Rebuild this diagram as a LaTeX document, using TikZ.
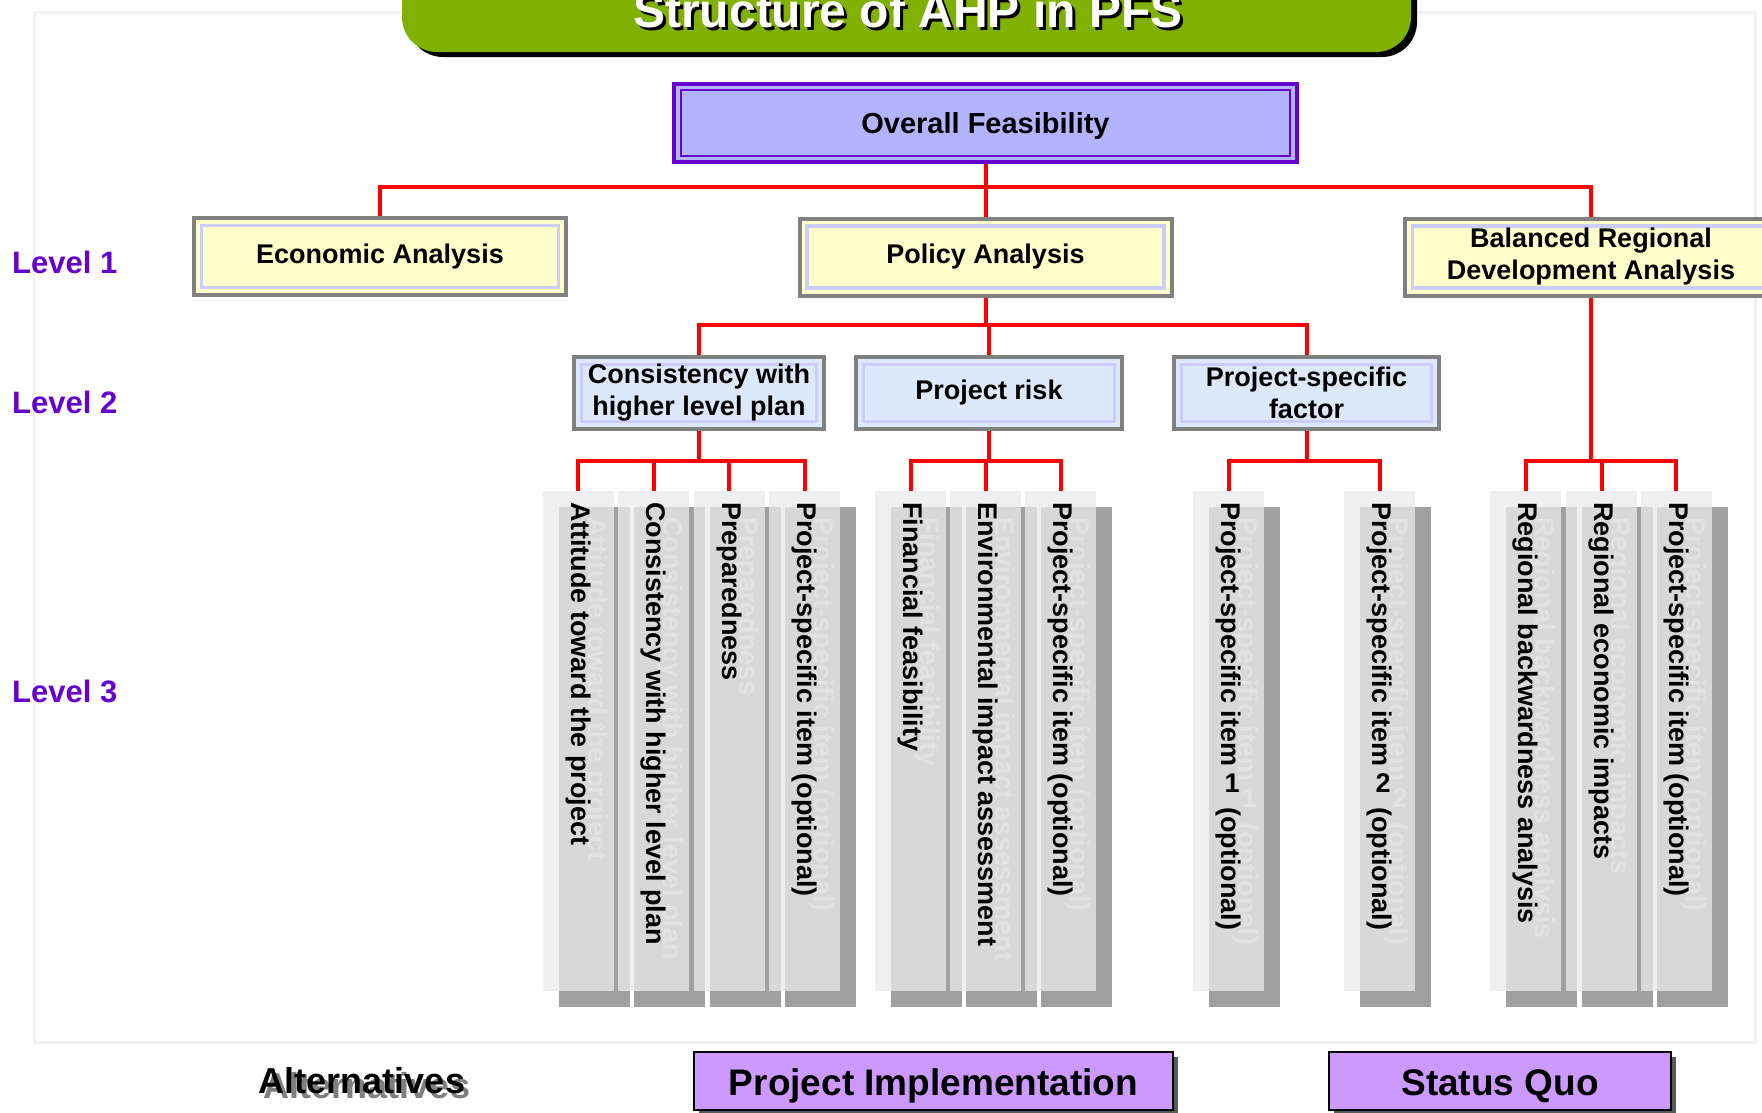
\documentclass[tikz,border=0pt]{standalone}
\usepackage{graphicx}
\usepackage{fontspec}
\setmainfont{Liberation Sans}
\usetikzlibrary{shadows}

\definecolor{titlegreen}{RGB}{128,176,0}
\definecolor{lvlpurple}{RGB}{102,0,204}
\definecolor{topfill}{RGB}{179,179,255}
\definecolor{lvlonefill}{RGB}{255,255,204}
\definecolor{lvltwofill}{RGB}{221,232,251}
\definecolor{innerlav}{RGB}{204,204,255}
\definecolor{boxgray}{RGB}{128,128,128}
\definecolor{linkred}{RGB}{255,0,0}
\definecolor{stripgray}{RGB}{234,234,234}
\definecolor{stripshadow}{RGB}{160,160,160}
\definecolor{ghostgray}{RGB}{226,226,226}
\definecolor{choicefill}{RGB}{204,153,255}
\definecolor{framegray}{RGB}{242,242,242}

% upright digit inside the sideways text
\newcommand{\updigit}[1]{\raisebox{3pt}{\rotatebox{90}{#1}}}
% one level 3 strip: box, faded copy of the text, the text
\newcommand{\stripnode}[3]{%
  \node[strip] (#1) at (#2,741) {};
  \node[vtext, text=ghostgray] (#1-ghost) at ([shift={(17pt,-26pt)}]#1.north) {#3};
  \node[vtext] (#1-text) at ([yshift=-11pt]#1.north) {#3};}

\begin{document}
\begin{tikzpicture}[x=1pt, y=-1pt,
    box/.style={draw=boxgray, line width=4pt, align=center, inner sep=0pt,
      font=\bfseries\fontsize{27}{32}\selectfont,
      path picture={\draw[innerlav, line width=3.5pt]
        ([shift={(7.5pt,-7.5pt)}]path picture bounding box.north west) rectangle
        ([shift={(-7.5pt,7.5pt)}]path picture bounding box.south east);}},
    topbox/.style={draw=lvlpurple, fill=topfill, line width=4pt, inner sep=0pt,
      minimum width=623pt, minimum height=78pt, text depth=0pt,
      font=\bfseries\fontsize{29}{34}\selectfont,
      path picture={\draw[lvlpurple, line width=2.5pt]
        ([shift={(7pt,-6pt)}]path picture bounding box.north west) rectangle
        ([shift={(-7pt,6pt)}]path picture bounding box.south east);}},
    lvlone/.style={box, fill=lvlonefill, minimum width=372pt, minimum height=77pt},
    lvltwo/.style={box, fill=lvltwofill, minimum height=72pt},
    strip/.style={fill=stripgray, fill opacity=0.76, inner sep=0pt,
      minimum width=71pt, minimum height=500pt,
      drop shadow={shadow xshift=16pt, shadow yshift=-16pt, fill=stripshadow, opacity=1}},
    vtext/.style={rotate=-90, anchor=west, inner sep=0pt,
      font=\bfseries\fontsize{27}{32}\selectfont},
    link/.style={draw=linkred, line width=4pt},
    lvllabel/.style={anchor=base west, inner sep=0pt, text=lvlpurple,
      font=\bfseries\fontsize{31}{31}\selectfont},
    titletext/.style={anchor=base, inner sep=0pt, text=white,
      font=\bfseries\fontsize{48}{48}\selectfont},
    alttext/.style={anchor=base, inner sep=0pt,
      font=\bfseries\fontsize{36}{36}\selectfont},
    choice/.style={draw=black, line width=2.5pt, fill=choicefill, inner sep=0pt,
      minimum height=58pt, text height=30pt, text depth=2pt,
      font=\bfseries\fontsize{37}{40}\selectfont,
      drop shadow={shadow xshift=5pt, shadow yshift=-5pt, fill=black!65, opacity=1}}]

    \useasboundingbox (0,0) rectangle (1762,1112);
    % faint panel frame
    \draw[framegray, line width=3pt] (34,12) rectangle (1755,1042);

    % title bar, runs off the top edge
    \node[fill=titlegreen, rounded corners=35pt, minimum width=1009pt, minimum height=114pt,
      drop shadow={shadow xshift=6pt, shadow yshift=-5pt, fill=black, opacity=1}]
      (bar) at (906.5,-5) {};
    \node[titletext, text=black] (title-shadow) at (911,30) {Structure of AHP in PFS};
    \node[titletext] (title) at (908,27) {Structure of AHP in PFS};

    \node[topbox] (overall) at (985.5,123) {Overall Feasibility};

    % levels on the left
    \node[lvllabel] (lev1) at (12,273) {Level 1};
    \node[lvllabel] (lev2) at (12,413) {Level 2};
    \node[lvllabel] (lev3) at (12,702) {Level 3};

    % level 1
    \node[lvlone] (econ) at (380,256.5) {Economic Analysis};
    \node[lvlone] (policy) at (985.5,257) {Policy Analysis};
    \node[lvlone] (balanced) at (1591,257) {Balanced Regional\\Development Analysis};

    % level 2
    \node[lvltwo, minimum width=250pt] (consist) at (699,393) {Consistency with\\higher level plan};
    \node[lvltwo, minimum width=266pt] (risk) at (989,393) {Project risk};
    \node[lvltwo, minimum width=265pt] (psf) at (1306.5,393) {Project-specific\\factor};

    % level 3
    \stripnode{att}{578}{Attitude toward the project}
    \stripnode{cons}{653.5}{Consistency with higher level plan}
    \stripnode{prep}{729}{Preparedness}
    \stripnode{optA}{804.5}{Project-specific item (optional)}
    \stripnode{fin}{910.5}{Financial feasibility}
    \stripnode{env}{985.5}{Environmental impact assessment}
    \stripnode{optB}{1060.5}{Project-specific item (optional)}
    \stripnode{itemone}{1228.5}{Project-specific item \updigit{1}\hspace{15pt}(optional)}
    \stripnode{itemtwo}{1379.5}{Project-specific item \updigit{2}\hspace{15pt}(optional)}
    \stripnode{back}{1525.5}{Regional backwardness analysis}
    \stripnode{impact}{1601.5}{Regional economic impacts}
    \stripnode{optC}{1676}{Project-specific item (optional)}

    % red tree lines
    \coordinate (bus0) at (0,187);
    \coordinate (bus1) at (0,325);
    \coordinate (bus2) at (0,461);
    \draw[link] (overall.south) -- (policy.north);
    \draw[link] (econ.north) -- (econ.north |- bus0) -- (balanced.north |- bus0) -- (balanced.north);

    \draw[link] (policy.south) -- (policy.south |- bus1);
    \draw[link] (consist.north) -- (consist.north |- bus1) -- (psf.north |- bus1) -- (psf.north);
    \draw[link] (risk.north) -- (risk.north |- bus1);

    \draw[link] (consist.south) -- (consist.south |- bus2);
    \draw[link] (att.north) -- (att.north |- bus2) -- (optA.north |- bus2) -- (optA.north);
    \draw[link] (cons.north) -- (cons.north |- bus2);
    \draw[link] (prep.north) -- (prep.north |- bus2);

    \draw[link] (risk.south) -- (risk.south |- bus2);
    \draw[link] (fin.north) -- (fin.north |- bus2) -- (optB.north |- bus2) -- (optB.north);
    \draw[link] (env.north) -- (env.north |- bus2);

    \draw[link] (psf.south) -- (psf.south |- bus2);
    \draw[link] (itemone.north) -- (itemone.north |- bus2) -- (itemtwo.north |- bus2) -- (itemtwo.north);

    \draw[link] (balanced.south) -- (balanced.south |- bus2);
    \draw[link] (back.north) -- (back.north |- bus2) -- (optC.north |- bus2) -- (optC.north);
    \draw[link] (impact.north) -- (impact.north |- bus2);

    % alternatives row
    \node[alttext, text=gray] (alt-shadow) at (367,1098) {Alternatives};
    \node[alttext] (alt) at (362,1093) {Alternatives};
    \node[choice, minimum width=479pt] (impl) at (933.5,1081) {Project Implementation};
    \node[choice, minimum width=342pt] (quo) at (1500,1081) {Status Quo};
\end{tikzpicture}
\end{document}
